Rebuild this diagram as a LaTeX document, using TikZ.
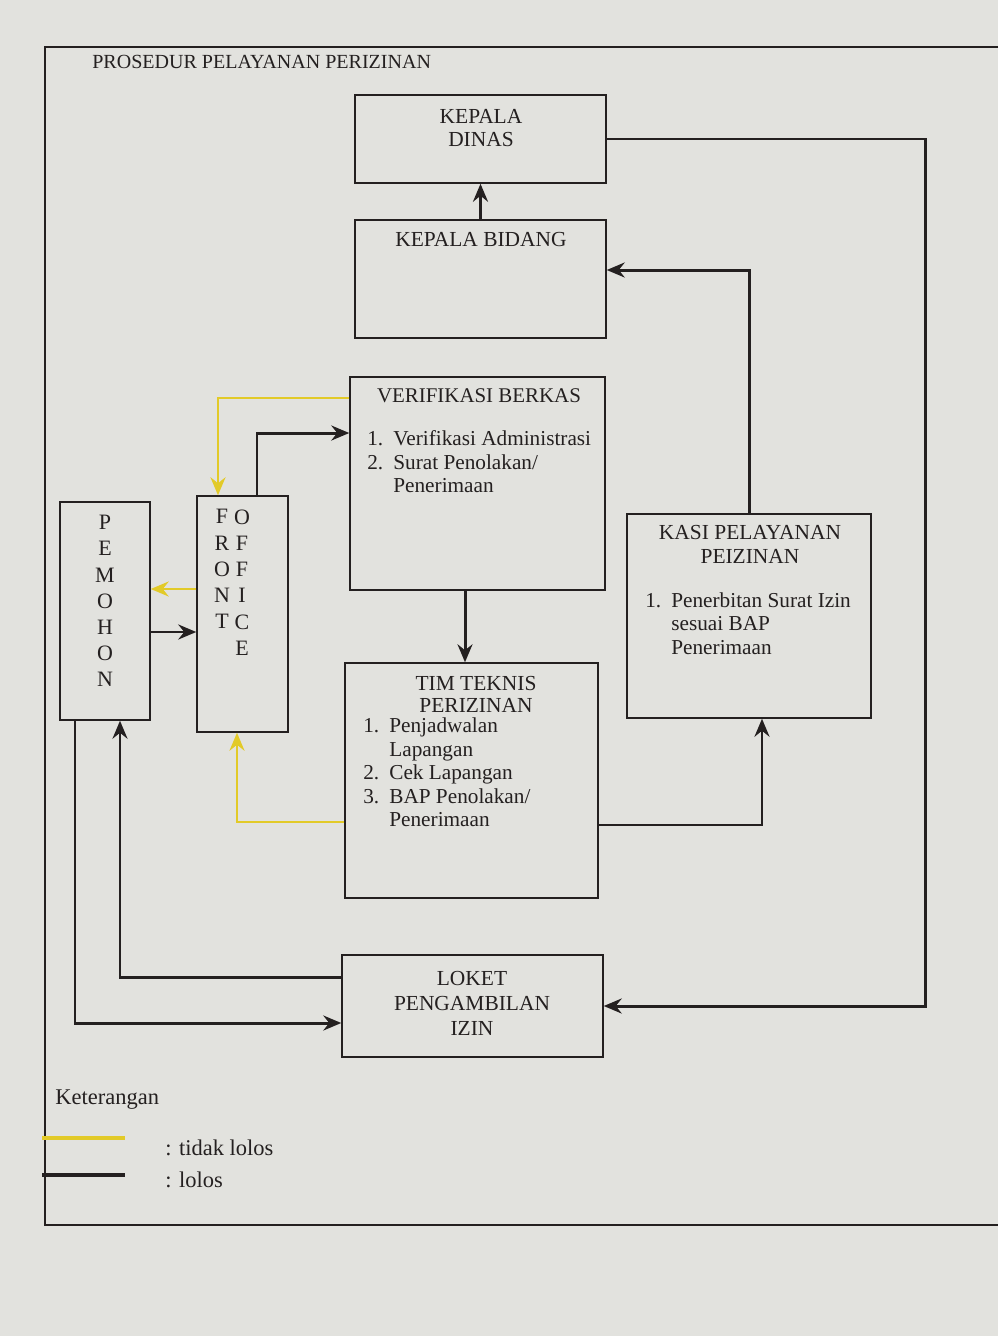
\documentclass[tikz,border=0pt]{standalone}
\usepackage{fontspec}
\setmainfont{Liberation Serif}
\usetikzlibrary{arrows.meta, positioning, calc}
\definecolor{kertas}{RGB}{226,226,222}
\definecolor{tinta}{RGB}{36,32,32}
\definecolor{kuning}{RGB}{226,202,40}

\begin{document}
\begin{tikzpicture}[x=0.02cm, y=-0.02cm, color=tinta,
    box/.style={draw, line width=0.85pt, inner sep=0pt},
    head/.style={font=\fontsize{12.2}{13.6}\selectfont, align=center, inner sep=0pt},
    list/.style={font=\fontsize{12.1}{13.3}\selectfont, inner sep=0pt, anchor=west},
    pass/.style={line width=1.7pt, -{Stealth[length=0.36cm, width=0.3cm, inset=0.12cm]}},
    fail/.style={pass, draw=kuning, line width=1.5pt}]

  \useasboundingbox (0,0) rectangle (998,1336);
  \fill[kertas] (0,0) rectangle (998,1336);

  % frame and title
  \draw[line width=0.8pt] (998,47) -- (45,47) -- (45,1225) -- (998,1225);
  \node[anchor=west, inner sep=0pt, font=\fontsize{11.4}{13}\selectfont] (judul) at (92,62) {PROSEDUR PELAYANAN PERIZINAN};

  % boxes
  \node[box, minimum width=5.02cm, minimum height=1.76cm] (kd) at (480.5,139) {};
  \node[head] (kdtxt) at (481,128) {KEPALA\\DINAS};

  \node[box, minimum width=5.02cm, minimum height=2.36cm] (kb) at (480.5,279) {};
  \node[head] (kbtxt) at (481,240) {KEPALA BIDANG};

  \node[box, minimum width=5.1cm, minimum height=4.26cm] (vb) at (477.5,483.5) {};
  \node[head, font=\fontsize{11.9}{13.6}\selectfont] (vbtxt) at (479,396) {VERIFIKASI BERKAS};
  \node[list] (vblist) at (367,464.5) {\begin{tabular}{@{}p{0.52cm}@{}l@{}}
      1. & Verifikasi Administrasi\\
      2. & Surat Penolakan/\\
         & Penerimaan
    \end{tabular}};

  \node[box, minimum width=5.06cm, minimum height=4.7cm] (tim) at (471.5,780.5) {};
  \node[head, font=\fontsize{12.2}{12.6}\selectfont] (timtxt) at (476,694) {TIM TEKNIS\\PERIZINAN};
  \node[list] (timlist) at (363,775) {\begin{tabular}{@{}p{0.52cm}@{}l@{}}
      1. & Penjadwalan\\
         & Lapangan\\
      2. & Cek Lapangan\\
      3. & BAP Penolakan/\\
         & Penerimaan
    \end{tabular}};

  \node[box, minimum width=4.88cm, minimum height=4.08cm] (kasi) at (749,616) {};
  \node[head] (kasitxt) at (750,544) {KASI PELAYANAN\\PEIZINAN};
  \node[list] (kasilist) at (645,626) {\begin{tabular}{@{}p{0.52cm}@{}l@{}}
      1. & Penerbitan Surat Izin\\
         & sesuai BAP\\
         & Penerimaan
    \end{tabular}};

  \node[box, minimum width=5.22cm, minimum height=2.04cm] (loket) at (472.5,1006) {};
  \node[head, font=\fontsize{12.2}{14.2}\selectfont] (loketxt) at (472,1003) {LOKET\\PENGAMBILAN\\IZIN};

  \node[box, minimum width=1.8cm, minimum height=4.36cm] (pem) at (105,611) {};
  \node[head, font=\fontsize{12.5}{14.9}\selectfont] (pemtxt) at (105,601) {P\\E\\M\\O\\H\\O\\N};

  \node[box, minimum width=1.82cm, minimum height=4.72cm] (fo) at (242.5,614) {};
  \node[head, font=\fontsize{12.5}{14.9}\selectfont] (fotxt1) at (222,569) {F\\R\\O\\N\\T};
  \node[head, font=\fontsize{12.5}{14.9}\selectfont] (fotxt2) at (242,582.5) {O\\F\\F\\I\\C\\E};

  % helper points
  \coordinate (kdturn) at (925,0);
  \coordinate (vbout) at ([xshift=-0.25cm]vb.south);
  \coordinate (foout) at ([xshift=0.29cm]fo.north);
  \coordinate (fofail) at ([yshift=0.5cm]fo.west);
  \coordinate (pemout) at ([yshift=-0.42cm]pem.east);

  % kb to kd
  \draw[pass] (kb.north) -- (kd.south);
  % kd to loket
  \draw[pass] (kd.east) -- (kd.east -| kdturn) |- (loket.east);
  % kasi to kb
  \draw[pass] (kasi.north) |- ([yshift=0.18cm]kb.east);
  % tim to kasi
  \draw[pass] ([yshift=-0.89cm]tim.east) -| ([xshift=0.26cm]kasi.south);
  % vb to tim
  \draw[pass] (vbout) -- (vbout |- tim.north);
  % fo to vb
  \draw[pass] (foout) |- ([yshift=1.01cm]vb.west);
  % vb back to fo
  \draw[fail] ([yshift=1.71cm]vb.west) -| ([xshift=-0.49cm]fo.north);
  % fo back to pem
  \draw[fail] (fofail) -- (fofail -| pem.east);
  % pem to fo
  \draw[pass] (pemout) -- (pemout -| fo.west);
  % tim back to fo
  \draw[fail] ([yshift=-0.83cm]tim.west) -| ([xshift=-0.11cm]fo.south);
  % loket to pem
  \draw[pass] ([yshift=0.58cm]loket.west) -| ([xshift=0.3cm]pem.south);
  % pem to loket
  \draw[pass] ([xshift=-0.6cm]pem.south) |- ([yshift=-0.34cm]loket.west);

  % legend
  \node[anchor=west, inner sep=0pt, font=\fontsize{12.8}{14}\selectfont] (ket) at (55,1100) {Keterangan};
  \coordinate (kuningA) at (42,1138);
  \coordinate (kuningB) at (125,1138);
  \coordinate (hitamA) at (42,1175);
  \coordinate (hitamB) at (125,1175);
  \draw[kuning, line width=1.8pt] (kuningA) -- (kuningB);
  \draw[line width=1.9pt] (hitamA) -- (hitamB);
  \node[anchor=west, inner sep=0pt, font=\fontsize{12.8}{14}\selectfont] (ketgagal) at (165,1148) {: tidak lolos};
  \node[anchor=west, inner sep=0pt, font=\fontsize{12.8}{14}\selectfont] (ketlolos) at (165,1180) {: lolos};
\end{tikzpicture}
\end{document}
